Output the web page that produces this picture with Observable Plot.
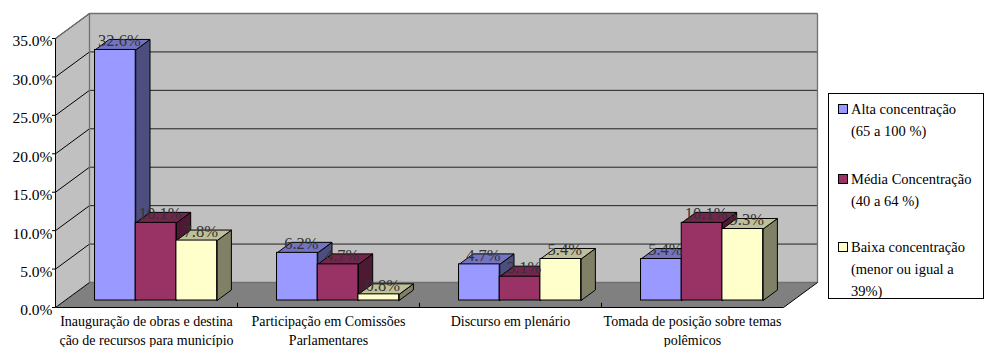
<!DOCTYPE html>
<html><head><meta charset="utf-8">
<script src="https://cdn.jsdelivr.net/npm/d3@7"></script>
<script src="https://cdn.jsdelivr.net/npm/@observablehq/plot@0.6"></script>
<style>
body{margin:0;background:#fff;font-family:'Liberation Serif',serif;}
#wrap{position:relative;width:986px;height:347px;overflow:hidden;}
#legend{position:absolute;left:828px;top:93px;width:156px;height:206px;border:1px solid #000;box-sizing:border-box;background:#fff;}
.item{position:absolute;left:22px;font-family:'Liberation Serif',serif;font-size:14.5px;line-height:22px;color:#000;white-space:nowrap;}
.sw{position:absolute;left:9px;width:8px;height:8px;border:1px solid #000;}
</style></head><body>
<div id="wrap"><div id="chart"></div><div id="legend"></div></div>
<script>
// ---- data ----
const categoriesLine1 = ["Inauguração de obras e destina", "Participação em Comissões", "Discurso em plenário", "Tomada de posição sobre temas"];
const categoriesLine2 = ["ção de recursos para município", "Parlamentares", "", "polêmicos"];
const seriesNames = ["Alta concentração", "Média Concentração", "Baixa concentração"];
const seriesNotes = [["(65 a 100 %)"], ["(40 a 64 %)"], ["(menor ou igual a", "39%)"]];
const alta = [32.6, 6.2, 4.7, 5.4];
const media = [10.1, 4.7, 3.1, 10.1];
const baixa = [7.8, 0.8, 5.4, 9.3];
const yTicks = [0, 5, 10, 15, 20, 25, 30, 35];
const frontColors = ["#9999FF", "#993366", "#FFFFCC"];
const topColors = ["#7373BF", "#73264D", "#BFBF99"];
const sideColors = ["#4D4D80", "#4D1A33", "#808066"];

// ---- geometry (3D depth in scale units) ----
const FONT = "Liberation Serif";
const series = [alta, media, baixa];
const nCat = categoriesLine1.length;
const pxPerCat = 182, depthPx = 34, depthPy = 25, plotH = 294;
const DX = depthPx / pxPerCat;
const DYu = depthPy * 35 / (plotH - depthPy);
const f0 = 0.28, f1 = 0.70;
const g = 30 / pxPerCat, w = 40.7 / pxPerCat;

function poly(id, pts) { return pts.concat([pts[0]]).map(([x, y]) => ({id, x, y})); }

const bars = [];
series.forEach((vals, s) => vals.forEach((v, i) => {
  const xl = i + g + s * w + f0 * DX, xr = xl + w;
  const yb = f0 * DYu, yt = yb + v;
  const d = (f1 - f0) * DX, dd = (f1 - f0) * DYu;
  bars.push({s, i, v, xl, xr, yb, yt,
    side: poly(`s${s}-${i}`, [[xr, yb], [xr + d, yb + dd], [xr + d, yt + dd], [xr, yt]]),
    top: poly(`t${s}-${i}`, [[xl, yt], [xr, yt], [xr + d, yt + dd], [xl + d, yt + dd]])});
}));

const leftWall = poly("lw", [[0, 0], [DX, DYu], [DX, 35 + DYu], [0, 35]]);
const floor = poly("fl", [[0, 0], [nCat, 0], [nCat + DX, DYu], [DX, DYu]]);
const seg = {x1: d => d[0], y1: d => d[1], x2: d => d[2], y2: d => d[3]};

const marks = [
  Plot.rect([0], {x1: () => DX, x2: () => nCat + DX, y1: () => DYu, y2: () => 35 + DYu, fill: "#C0C0C0", stroke: "none"}),
  Plot.line(leftWall, {x: "x", y: "y", z: "id", fill: "#C0C0C0", stroke: "none"}),
  Plot.line(floor, {x: "x", y: "y", z: "id", fill: "#808080", stroke: "none"}),
  Plot.ruleY(yTicks.filter(v => v > 0 && v < 35), {y: v => v + DYu, x1: () => DX, x2: () => nCat + DX, stroke: "#222", strokeWidth: 1}),
  Plot.link(yTicks.filter(v => v > 0), {x1: () => 0, y1: v => v, x2: () => DX, y2: v => v + DYu, stroke: "#000", strokeWidth: 1}),
  Plot.link([[0, 35, DX, 35 + DYu], [DX, 35 + DYu, nCat + DX, 35 + DYu], [DX, DYu, DX, 35 + DYu], [nCat + DX, DYu, nCat + DX, 35 + DYu], [DX, DYu, nCat + DX, DYu]], {...seg, stroke: "#707070", strokeWidth: 1.3}),
  Plot.link([[0, 0, nCat, 0], [nCat, 0, nCat + DX, DYu], [0, 0, DX, DYu], [0, 0, 0, 35]], {...seg, stroke: "#000", strokeWidth: 1}),
  Plot.ruleX(d3.range(1, nCat), {x: d => d, y1: () => 0, y2: () => 0.55, stroke: "#000"}),
  Plot.ruleY(yTicks, {y: d => d, x1: () => -3 / pxPerCat, x2: () => 0, stroke: "#000"}),
  Plot.text(yTicks, {x: () => 0, y: d => d, text: d => d.toFixed(1) + "%", textAnchor: "end", dx: -3, dy: 3, fontSize: 15.5, fontFamily: FONT, fill: "#000"})
];

for (let s = 0; s < series.length; s++) {
  const bs = bars.filter(b => b.s === s);
  marks.push(Plot.line(bs.flatMap(b => b.side), {x: "x", y: "y", z: "id", fill: sideColors[s], stroke: "#000", strokeWidth: 1, strokeLinejoin: "miter", curve: "linear"}));
  marks.push(Plot.line(bs.flatMap(b => b.top), {x: "x", y: "y", z: "id", fill: topColors[s], stroke: "#000", strokeWidth: 1, strokeLinejoin: "miter", curve: "linear"}));
  marks.push(Plot.rect(bs, {x1: "xl", x2: "xr", y1: "yb", y2: "yt", fill: frontColors[s], stroke: "#000", strokeWidth: 1}));
}
marks.push(Plot.text(bars, {x: b => (b.xl + b.xr) / 2, y: "yt", text: b => b.v.toFixed(1) + "%", dx: 4, dy: -9, fontSize: 16.5, fontFamily: FONT, fill: "#333"}));
marks.push(Plot.text(categoriesLine1, {x: (d, i) => i + 0.5, y: () => 0, text: d => d, dy: 14, fontSize: 14, fontFamily: FONT, fill: "#000"}));
marks.push(Plot.text(categoriesLine2, {x: (d, i) => i + 0.5, y: () => 0, text: d => d, dy: 33, fontSize: 14, fontFamily: FONT, fill: "#000"}));

const chart = Plot.plot({
  width: 986, height: 347,
  marginLeft: 55, marginRight: 169, marginTop: 13, marginBottom: 40,
  x: {domain: [0, nCat + DX], axis: null},
  y: {domain: [0, 35 + DYu], axis: null},
  style: {fontFamily: FONT, background: "transparent", overflow: "visible"},
  marks
});
document.getElementById("chart").appendChild(chart);

// legend
const lg = document.getElementById("legend");
const tops = [4, 74, 142];
seriesNames.forEach((name, s) => {
  const sw = document.createElement("div");
  sw.className = "sw"; sw.style.top = (tops[s] + 6) + "px"; sw.style.background = frontColors[s];
  lg.appendChild(sw);
  const it = document.createElement("div");
  it.className = "item"; it.style.top = tops[s] + "px";
  it.innerHTML = [name].concat(seriesNotes[s]).join("<br>");
  lg.appendChild(it);
});
</script></body></html>
